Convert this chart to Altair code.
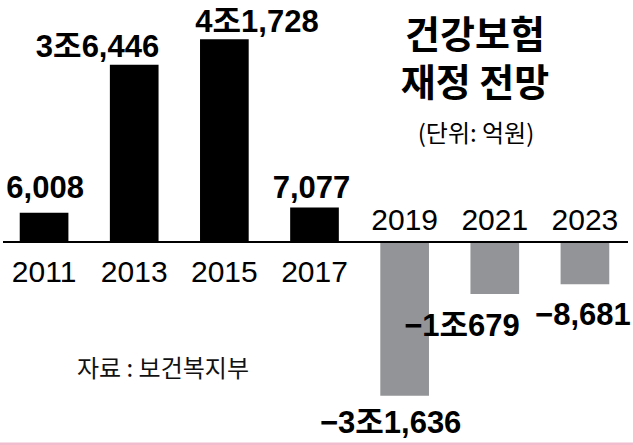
import altair as alt
import pandas as pd

# ---- data ----
years = ["2011", "2013", "2015", "2017", "2019", "2021", "2023"]
values = [6008, 36446, 41728, 7077, -31636, -10679, -8681]
value_labels = ["6,008", "3조6,446", "4조1,728", "7,077", "−3조1,636", "−1조679", "−8,681"]

title_lines = ["건강보험", "재정 전망"]
unit_text = "(단위: 억원)"
source_text = "자료 : 보건복지부"

df = pd.DataFrame({"year": years, "value": values, "label": value_labels})

W, H = 633, 445
NUM_FONT = "Liberation Sans, Arial, Noto Sans CJK KR, sans-serif"
KR_FONT = "Noto Sans CJK KR, sans-serif"

x_enc = alt.X("year:N", sort=years, axis=None,
              scale=alt.Scale(paddingInner=0.46, paddingOuter=0.23, range=[-1, 630]))
y_scale = alt.Scale(domain=[-41770, 49794], nice=False, zero=False)
y_enc = alt.Y("value:Q", axis=None, scale=y_scale)
y0_enc = alt.Y("zero:Q", axis=None, scale=y_scale)

base = alt.Chart(df).transform_calculate(zero="0")

bars = base.mark_bar().encode(
    x=x_enc,
    y=y_enc,
    y2="zero:Q",
    color=alt.condition("datum.value > 0", alt.value("#000000"), alt.value("#939497")),
)

baseline = base.mark_rule(color="#000000", strokeWidth=1.5).encode(
    x=alt.value(3), x2=alt.value(628), y=y0_enc
)

YEAR_SIZE = 30
VAL_SIZE = 31

year_pos = base.transform_filter("datum.value > 0").mark_text(
    font=NUM_FONT, fontSize=YEAR_SIZE, baseline="alphabetic", dy=40, color="#000000"
).encode(x=x_enc, y=y0_enc, text="year:N")

year_neg = base.transform_filter("datum.value < 0").mark_text(
    font=NUM_FONT, fontSize=YEAR_SIZE, baseline="alphabetic", dy=-12, color="#000000"
).encode(x=x_enc, y=y0_enc, text="year:N")

label_specs = {
    "2011": ("center", 1, -15),
    "2013": ("right", 25, -8),
    "2015": ("left", -29, -7),
    "2017": ("center", -3, -10),
    "2019": ("center", -14, 37),
    "2021": ("right", 25, 42),
    "2023": ("center", -2, 41),
}
value_layers = []
for yr, (al, dx, dy) in label_specs.items():
    value_layers.append(
        base.transform_filter(alt.datum.year == yr).mark_text(
            font=NUM_FONT, fontSize=VAL_SIZE, fontWeight="bold", align=al, dx=dx, dy=dy,
            baseline="alphabetic", color="#000000"
        ).encode(x=x_enc, y=y_enc, text="label:N")
    )


def note(txt, x, y, size, weight="normal", color="#000000"):
    return alt.Chart(pd.DataFrame({"t": [txt]})).mark_text(
        font=KR_FONT, fontSize=size, fontWeight=weight, align="center", baseline="middle", color=color
    ).encode(x=alt.value(x), y=alt.value(y), text="t:N")


title1 = note(title_lines[0], 475, 37, 38, "bold")
title2 = note(title_lines[1], 475, 85, 38, "bold")
unit = note(unit_text, 476, 135, 24)
source = note(source_text, 163, 370, 24, color="#111111")

pink = alt.Chart(pd.DataFrame({"t": [0]})).mark_rule(color="#f2bccf", strokeWidth=3).encode(
    x=alt.value(0), x2=alt.value(W), y=alt.value(444)
)

chart = alt.layer(
    bars, baseline, year_pos, year_neg, *value_layers, title1, title2, unit, source, pink
).properties(
    width=W, height=H, padding=0, autosize=alt.AutoSizeParams(type="none"), background="#ffffff"
).configure_view(stroke=None)

chart.save("out.html", embed_options={"renderer": "svg", "actions": False})
